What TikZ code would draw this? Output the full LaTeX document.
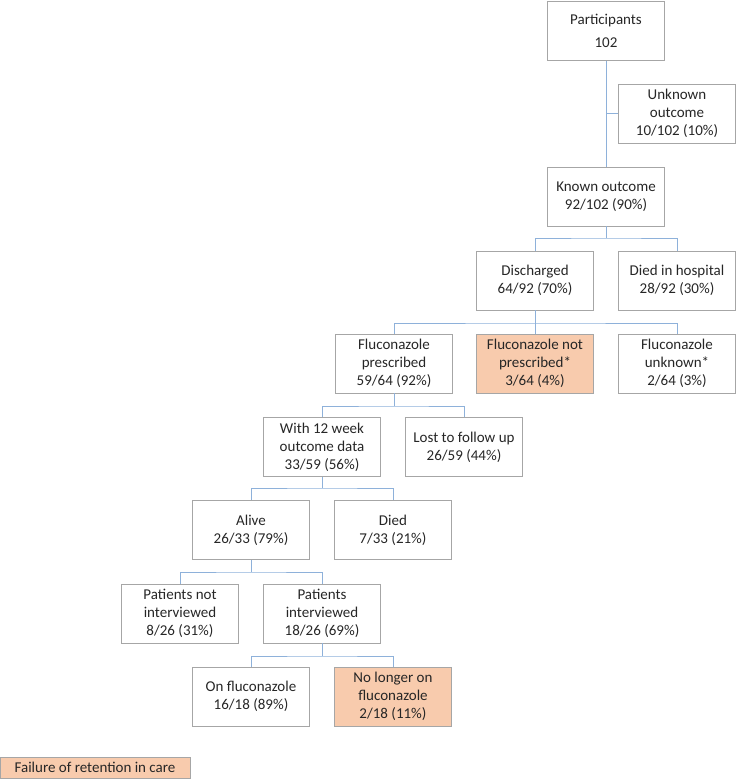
\documentclass[tikz,border=0pt]{standalone}
\usepackage{fontspec}
\setmainfont{Carlito}
\definecolor{boxgray}{HTML}{A6A6A6}
\definecolor{linkblue}{HTML}{8EB1DA}
\definecolor{peach}{HTML}{F8CBAD}
\definecolor{txt}{HTML}{262626}
\begin{document}
\begin{tikzpicture}[x=1pt,y=-1pt,
  box/.style={draw=boxgray,line width=0.8pt,minimum width=117pt,minimum height=59pt,
    inner sep=0pt,align=center,text=txt,font=\fontsize{15}{18}\selectfont},
  hot/.style={box,fill=peach},
  conn/.style={draw=linkblue,line width=1pt}]
\useasboundingbox (0,0) rectangle (739,781);
\node[box] (p) at (606,31) {Participants\\[5pt]102};
\node[box] (uo) at (677,113.5) {Unknown\\outcome\\10/102 (10\%)};
\node[box] (ko) at (606,196.5) {Known outcome\\92/102 (90\%)};
\node[box] (dis) at (535,280.5) {Discharged\\64/92 (70\%)};
\node[box] (dih) at (677,280.5) {Died in hospital\\28/92 (30\%)};
\node[box] (fp) at (394,363.5) {Fluconazole\\prescribed\\59/64 (92\%)};
\node[hot] (fnp) at (535,363.5) {Fluconazole not\\prescribed*\\3/64 (4\%)};
\node[box] (fu) at (677,363.5) {Fluconazole\\unknown*\\2/64 (3\%)};
\node[box] (w12) at (322,447) {With 12 week\\outcome data\\33/59 (56\%)};
\node[box] (lost) at (464,447) {Lost to follow up\\26/59 (44\%)};
\node[box] (alive) at (251,530) {Alive\\26/33 (79\%)};
\node[box] (died) at (393,530) {Died\\7/33 (21\%)};
\node[box] (pni) at (180,613.5) {Patients not\\interviewed\\8/26 (31\%)};
\node[box] (pi) at (322,613.5) {Patients\\interviewed\\18/26 (69\%)};
\node[box] (onf) at (251,696.5) {On fluconazole\\16/18 (89\%)};
\node[hot] (nlf) at (393,696.5) {No longer on\\fluconazole\\2/18 (11\%)};
\node[hot,minimum width=190pt,minimum height=21pt] (leg) at (95,767.5) {Failure of retention in care};
\coordinate (b1) at (0,238);
\coordinate (b2) at (0,323);
\coordinate (b3) at (0,406);
\coordinate (b4) at (0,488);
\coordinate (b5) at (0,572);
\coordinate (b6) at (0,656);
\draw[conn] (p.south) -- (ko.north);
\draw[conn] (p.south |- uo.west) -- (uo.west);
\draw[conn] (ko.south) -- (ko.south |- b1);
\draw[conn] (dis.north) |- (ko.south |- b1) -| (dih.north);
\draw[conn] (dis.south) -- (fnp.north);
\draw[conn] (fp.north) |- (dis.south |- b2) -| (fu.north);
\draw[conn] (fp.south) -- (fp.south |- b3);
\draw[conn] (w12.north) |- (fp.south |- b3) -| (lost.north);
\draw[conn] (w12.south) -- (w12.south |- b4);
\draw[conn] (alive.north) |- (w12.south |- b4) -| (died.north);
\draw[conn] (alive.south) -- (alive.south |- b5);
\draw[conn] (pni.north) |- (alive.south |- b5) -| (pi.north);
\draw[conn] (pi.south) -- (pi.south |- b6);
\draw[conn] (onf.north) |- (pi.south |- b6) -| (nlf.north);
\end{tikzpicture}
\end{document}
